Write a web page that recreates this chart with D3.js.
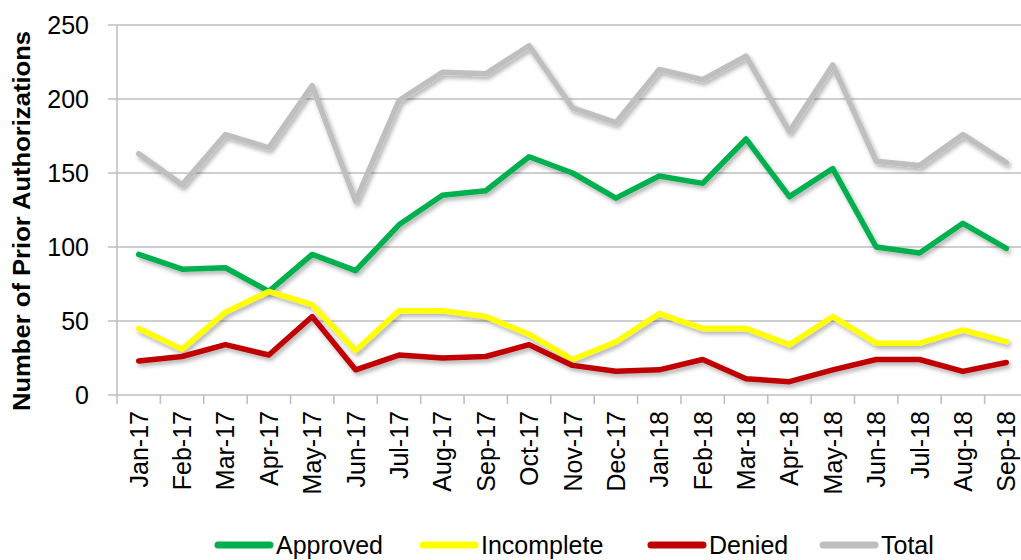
<!DOCTYPE html>
<html>
<head>
<meta charset="utf-8">
<script src="https://cdn.jsdelivr.net/npm/d3@7"></script>
<style>
  body{margin:0;background:#fff;}
  svg{display:block;font-family:"Liberation Sans",Arial,sans-serif;}
</style>
</head>
<body>
<div id="chart"></div>
<script>
// ---- data ----
var months = ["Jan-17","Feb-17","Mar-17","Apr-17","May-17","Jun-17","Jul-17","Aug-17","Sep-17","Oct-17","Nov-17","Dec-17",
              "Jan-18","Feb-18","Mar-18","Apr-18","May-18","Jun-18","Jul-18","Aug-18","Sep-18"];
var approved   = [95,85,86,70,95,84,115,135,138,161,150,133,148,143,173,134,153,100,96,116,99];
var incomplete = [45,31,56,70,61,30,57,57,53,41,24,36,55,45,45,34,53,35,35,44,36];
var denied     = [23,26,34,27,53,17,27,25,26,34,20,16,17,24,11,9,17,24,24,16,22];
var total      = [163,142,176,167,209,131,199,218,217,236,194,184,220,213,229,178,223,158,155,176,157];
var yTicks = [0,50,100,150,200,250];

var seriesNames  = ["Approved","Incomplete","Denied","Total"];
var seriesColors = ["#00b050","#ffff00","#c00000","#bfbfbf"];
var seriesValues = [approved,incomplete,denied,total];

var width=1021, height=560;
// plot box (window.top is reserved, so prefixed names)
var pLeft=117, pRight=1028, pTop=25, pBottom=395;

var svg=d3.select("#chart").append("svg")
    .attr("width",width).attr("height",height);

// soft shadow under the lines, like the spreadsheet look
var f=svg.append("defs").append("filter").attr("id","shadow")
    .attr("x","-5%").attr("y","-10%").attr("width","110%").attr("height","130%");
f.append("feDropShadow").attr("dx",2).attr("dy",3).attr("stdDeviation",2)
    .attr("flood-color","#000").attr("flood-opacity",0.3);

var x=d3.scalePoint().domain(months).range([pLeft,pRight]).padding(0.5);
var y=d3.scaleLinear().domain([0,250]).range([pBottom,pTop]);
var step=x.step();

// gridlines
svg.append("g").selectAll("line").data(yTicks).enter().append("line")
    .attr("x1",pLeft-9).attr("x2",width)
    .attr("y1",function(d){return y(d);}).attr("y2",function(d){return y(d);})
    .attr("stroke","#bfbfbf").attr("stroke-width",1.6);

// y axis line
svg.append("line").attr("x1",pLeft).attr("x2",pLeft).attr("y1",pTop).attr("y2",pBottom)
    .attr("stroke","#bfbfbf").attr("stroke-width",1.6);

// x ticks (between categories)
var tickPos=d3.range(months.length+1).map(function(i){return pLeft+i*step;});
svg.append("g").selectAll("line").data(tickPos).enter().append("line")
    .attr("x1",function(d){return d;}).attr("x2",function(d){return d;})
    .attr("y1",pBottom).attr("y2",pBottom+9)
    .attr("stroke","#bfbfbf").attr("stroke-width",1.6);

// y tick labels
svg.append("g").selectAll("text").data(yTicks).enter().append("text")
    .attr("x",pLeft-28).attr("y",function(d){return y(d);})
    .attr("dy","0.35em").attr("text-anchor","end")
    .attr("font-size",25).attr("fill","#000")
    .text(function(d){return d;});

// x labels, rotated
svg.append("g").selectAll("text").data(months).enter().append("text")
    .attr("transform",function(d){return "translate("+(x(d)+9)+","+(pBottom+16)+") rotate(-90)";})
    .attr("text-anchor","end")
    .attr("font-size",25).attr("fill","#000")
    .text(function(d){return d;});

// y title
svg.append("text")
    .attr("transform","translate(30,221) rotate(-90)")
    .attr("text-anchor","middle")
    .attr("font-size",24).attr("font-weight","bold")
    .attr("textLength",380).attr("lengthAdjust","spacingAndGlyphs")
    .text("Number of Prior Authorizations");

// lines
var line=d3.line()
    .x(function(d,i){return x(months[i]);})
    .y(function(d){return y(d);});

svg.append("g").selectAll("path").data(seriesValues).enter().append("path")
    .attr("d",function(d){return line(d);})
    .attr("fill","none")
    .attr("stroke",function(d,i){return seriesColors[i];})
    .attr("stroke-width",5.5)
    .attr("stroke-linejoin","round")
    .attr("stroke-linecap","round")
    .attr("filter","url(#shadow)");

// legend
var legX=[218,423,651,823];
var leg=svg.append("g").selectAll("g").data(seriesNames).enter().append("g")
    .attr("transform",function(d,i){return "translate("+legX[i]+",545)";});
leg.append("line").attr("x1",0).attr("x2",52).attr("y1",0).attr("y2",0)
    .attr("stroke",function(d,i){return seriesColors[i];})
    .attr("stroke-width",7).attr("stroke-linecap","round");
leg.append("text").attr("x",58).attr("y",0).attr("dy","0.34em")
    .attr("font-size",25).attr("fill","#000")
    .text(function(d){return d;});
</script>
</body>
</html>
